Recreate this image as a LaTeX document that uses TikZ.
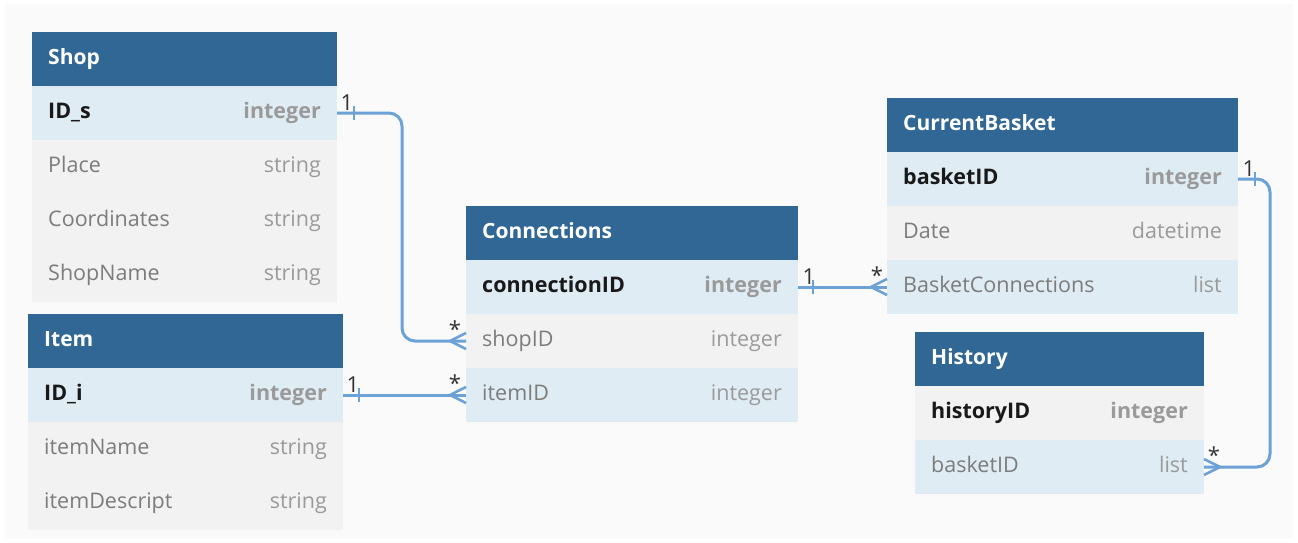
\documentclass[tikz,border=0pt]{standalone}
\usepackage{fontspec}
\setmainfont{Open Sans}
\definecolor{hdrblue}{HTML}{316795}
\definecolor{rowblue}{HTML}{DFECF4}
\definecolor{rowgray}{HTML}{F2F2F2}
\definecolor{linkblue}{HTML}{6CA2D6}
\definecolor{namegray}{HTML}{7C7C7C}
\definecolor{typegray}{HTML}{9A9A9A}
\definecolor{canvas}{HTML}{FAFAFA}

\tikzset{
  cell/.style={inner sep=0pt, outer sep=0pt, minimum height=54pt, anchor=north west, draw=none},
  hdrcell/.style={cell, fill=hdrblue},
  title/.style={font=\fontsize{21}{25}\selectfont\bfseries, text=white, anchor=base west, inner sep=0pt},
  keyname/.style={font=\fontsize{21.5}{26}\selectfont\bfseries, text=black!90, anchor=base west, inner sep=0pt},
  fname/.style={font=\fontsize{21.5}{26}\selectfont, text=namegray, anchor=base west, inner sep=0pt},
  keytype/.style={font=\fontsize{21.5}{26}\selectfont\bfseries, text=typegray, anchor=base east, inner sep=0pt},
  ftype/.style={font=\fontsize{21.5}{26}\selectfont, text=typegray, anchor=base east, inner sep=0pt},
  link/.style={draw=linkblue, line width=3pt, rounded corners=13pt},
  tick/.style={draw=linkblue, line width=2.5pt},
  crowfoot/.style={draw=linkblue, line width=2.5pt, line join=round},
  card/.style={font=\fontsize{22}{26}\selectfont, text=black!80, inner sep=0pt, anchor=base},
}

% table header: name, x, y, width, title
\newcommand\tblhead[5]{%
  \node[hdrcell, minimum width=#4] (#1) at (#2,#3) {};
  \node[title] (#1-title) at ([xshift=16pt,yshift=-5pt]#1.west) {#5};
}
% table row: name, x, y, width, fill, name style, type style, field, type
\newcommand\tblrow[9]{%
  \node[cell, fill=#5, minimum width=#4] (#1) at (#2,#3) {};
  \node[#6] (#1-name) at ([xshift=16pt,yshift=-5pt]#1.west) {#8};
  \node[#7] (#1-type) at ([xshift=-16pt,yshift=-5pt]#1.east) {#9};
}

\begin{document}
\begin{tikzpicture}[x=1pt, y=-1pt]
\useasboundingbox (0,0) rectangle (1298,542);
\fill[white] (0,0) rectangle (1298,542);
\fill[canvas] (5,4) rectangle (1293,539);

% Shop
\tblhead{shop}{32}{32}{305}{Shop}
\tblrow{shop-ids}{32}{86}{305}{rowblue}{keyname}{keytype}{ID\_s}{integer}
\tblrow{shop-place}{32}{140}{305}{rowgray}{fname}{ftype}{Place}{string}
\tblrow{shop-coord}{32}{194}{305}{rowgray}{fname}{ftype}{Coordinates}{string}
\tblrow{shop-name}{32}{248}{305}{rowgray}{fname}{ftype}{ShopName}{string}

% Item
\tblhead{item}{28}{314}{315}{Item}
\tblrow{item-idi}{28}{368}{315}{rowblue}{keyname}{keytype}{ID\_i}{integer}
\tblrow{item-name}{28}{422}{315}{rowgray}{fname}{ftype}{itemName}{string}
\tblrow{item-descr}{28}{476}{315}{rowgray}{fname}{ftype}{itemDescript}{string}

% Connections
\tblhead{conn}{466}{206}{332}{Connections}
\tblrow{conn-cid}{466}{260}{332}{rowblue}{keyname}{keytype}{connectionID}{integer}
\tblrow{conn-shopid}{466}{314}{332}{rowgray}{fname}{ftype}{shopID}{integer}
\tblrow{conn-itemid}{466}{368}{332}{rowblue}{fname}{ftype}{itemID}{integer}

% CurrentBasket
\tblhead{cb}{887}{98}{351}{CurrentBasket}
\tblrow{cb-bid}{887}{152}{351}{rowblue}{keyname}{keytype}{basketID}{integer}
\tblrow{cb-date}{887}{206}{351}{rowgray}{fname}{ftype}{Date}{datetime}
\tblrow{cb-bc}{887}{260}{351}{rowblue}{fname}{ftype}{BasketConnections}{list}

% History
\tblhead{hist}{915}{332}{289}{History}
\tblrow{hist-hid}{915}{386}{289}{rowgray}{keyname}{keytype}{historyID}{integer}
\tblrow{hist-bid}{915}{440}{289}{rowblue}{fname}{ftype}{basketID}{list}

% Shop.ID_s 1 -- * Connections.shopID
\draw[link] (shop-ids.east) -- ++(65,0) |- (conn-shopid.west);
\draw[tick] ([xshift=17pt,yshift=7pt]shop-ids.east) -- ([xshift=17pt,yshift=-7pt]shop-ids.east);
\draw[crowfoot] ([yshift=8pt]conn-shopid.west) -- ([xshift=-16pt]conn-shopid.west) -- ([yshift=-8pt]conn-shopid.west);
\node[card] (c1a) at ([xshift=10pt,yshift=3pt]shop-ids.east) {1};
\node[card] (c1b) at ([xshift=-11pt,yshift=4pt]conn-shopid.west) {*};

% Item.ID_i 1 -- * Connections.itemID
\draw[link] (item-idi.east) -- (item-idi.east -| conn-itemid.west);
\draw[tick] ([xshift=16pt,yshift=7pt]item-idi.east) -- ([xshift=16pt,yshift=-7pt]item-idi.east);
\draw[crowfoot] ([yshift=8pt]conn-itemid.west) -- ([xshift=-16pt]conn-itemid.west) -- ([yshift=-8pt]conn-itemid.west);
\node[card] (c2a) at ([xshift=10pt,yshift=3pt]item-idi.east) {1};
\node[card] (c2b) at ([xshift=-11pt,yshift=4pt]conn-itemid.west) {*};

% Connections.connectionID 1 -- * CurrentBasket.BasketConnections
\draw[link] (conn-cid.east) -- (conn-cid.east -| cb-bc.west);
\draw[tick] ([xshift=15pt,yshift=7pt]conn-cid.east) -- ([xshift=15pt,yshift=-7pt]conn-cid.east);
\draw[crowfoot] ([yshift=8pt]cb-bc.west) -- ([xshift=-16pt]cb-bc.west) -- ([yshift=-8pt]cb-bc.west);
\node[card] (c3a) at ([xshift=11pt,yshift=3pt]conn-cid.east) {1};
\node[card] (c3b) at ([xshift=-10pt,yshift=4pt]cb-bc.west) {*};

% CurrentBasket.basketID 1 -- * History.basketID
\draw[link] (cb-bid.east) -- ++(32,0) |- (hist-bid.east);
\draw[tick] ([xshift=17pt,yshift=7pt]cb-bid.east) -- ([xshift=17pt,yshift=-7pt]cb-bid.east);
\draw[crowfoot] ([yshift=8pt]hist-bid.east) -- ([xshift=16pt]hist-bid.east) -- ([yshift=-8pt]hist-bid.east);
\node[card] (c4a) at ([xshift=11pt,yshift=3pt]cb-bid.east) {1};
\node[card] (c4b) at ([xshift=10pt,yshift=4pt]hist-bid.east) {*};
\end{tikzpicture}
\end{document}
